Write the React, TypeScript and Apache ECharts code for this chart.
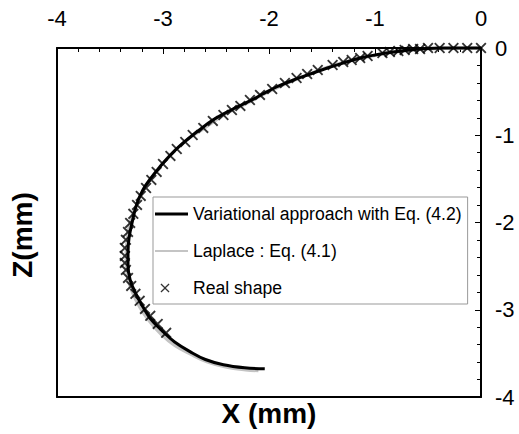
import React, { useEffect, useRef } from "react";
import * as echarts from "echarts";

// Variational approach with Eq. (4.2) — black curve
const variationalX = [0, -0.2, -0.39, -0.51, -0.67, -0.83, -1.0, -1.14, -1.3, -1.45, -1.61, -1.77, -1.93, -2.06, -2.18, -2.34, -2.53, -2.67, -2.81, -2.93, -3.03, -3.12, -3.19, -3.25, -3.29, -3.32, -3.33, -3.33, -3.31, -3.26, -3.19, -3.12, -3.01, -2.89, -2.745, -2.6, -2.43, -2.23, -2.04];
const variationalZ = [0, 0, 0, -0.006, -0.023, -0.046, -0.08, -0.115, -0.172, -0.229, -0.298, -0.367, -0.447, -0.527, -0.607, -0.699, -0.825, -0.951, -1.088, -1.226, -1.363, -1.501, -1.627, -1.798, -1.993, -2.176, -2.337, -2.486, -2.658, -2.807, -2.967, -3.1, -3.24, -3.37, -3.48, -3.57, -3.63, -3.665, -3.677];

// Laplace : Eq. (4.1) — gray curve
const laplaceX = [0, -0.2, -0.4, -0.6, -0.8, -1.0, -1.2, -1.4, -1.6, -1.8, -2.0, -2.2, -2.4, -2.6, -2.8, -2.95, -3.07, -3.17, -3.25, -3.31, -3.34, -3.35, -3.34, -3.29, -3.22, -3.13, -3.02, -2.89, -2.74, -2.58, -2.4, -2.22, -2.1];
const laplaceZ = [0, -0.003, -0.008, -0.02, -0.045, -0.085, -0.135, -0.2, -0.29, -0.39, -0.5, -0.63, -0.75, -0.91, -1.08, -1.25, -1.42, -1.6, -1.8, -2.0, -2.2, -2.4, -2.6, -2.8, -2.97, -3.13, -3.28, -3.41, -3.51, -3.6, -3.66, -3.69, -3.7];

// Real shape — crosses
const realX = [0, -0.13, -0.26, -0.39, -0.5, -0.575, -0.64, -0.72, -0.78, -0.86, -0.93, -1.07, -1.14, -1.22, -1.3, -1.4, -1.54, -1.64, -1.74, -1.85, -1.97, -2.085, -2.18, -2.27, -2.35, -2.43, -2.53, -2.62, -2.72, -2.79, -2.87, -2.93, -3.0, -3.06, -3.11, -3.16, -3.21, -3.245, -3.28, -3.31, -3.33, -3.35, -3.36, -3.36, -3.36, -3.35, -3.33, -3.3, -3.26, -3.22, -3.17, -3.12, -3.05, -2.97];
const realZ = [0, 0, 0, 0, 0, -0.011, -0.011, -0.023, -0.034, -0.046, -0.057, -0.092, -0.115, -0.137, -0.16, -0.195, -0.252, -0.298, -0.344, -0.401, -0.47, -0.538, -0.596, -0.664, -0.71, -0.768, -0.836, -0.916, -0.997, -1.077, -1.157, -1.237, -1.329, -1.42, -1.512, -1.604, -1.695, -1.798, -1.901, -2.005, -2.108, -2.199, -2.291, -2.383, -2.463, -2.543, -2.635, -2.727, -2.818, -2.898, -2.99, -3.07, -3.162, -3.265];

const seriesNames = ["Variational approach with Eq. (4.2)", "Laplace : Eq. (4.1)", "Real shape"];
const xAxisRange = [-4, 0];
const zAxisRange = [-4, 0];
const xTitle = "X (mm)";
const zTitle = "Z(mm)";

const FONT = "'Liberation Sans', Arial, Helvetica, sans-serif";

const crossSymbol = "path://M0,1.2L1.2,0L5,3.8L8.8,0L10,1.2L6.2,5L10,8.8L8.8,10L5,6.2L1.2,10L0,8.8L3.8,5Z";
const crossLegendIcon =
  "path://M0,0L0.01,0L0.01,0.01Z M32.99,13.99L33,13.99L33,14Z M5.5,3.4L6.4,2.5L10,6.1L13.6,2.5L14.5,3.4L10.9,7L14.5,10.6L13.6,11.5L10,7.9L6.4,11.5L5.5,10.6L9.1,7Z";
const thickLineIcon = "path://M0,0L33,0L33,3L0,3Z";
const thinLineIcon = "path://M0,0L33,0L33,2L0,2Z";

const zip = (xs: number[], zs: number[]) => xs.map((x, i) => [x, zs[i]]);

export default function App() {
  const ref = useRef<HTMLDivElement>(null);
  useEffect(() => {
    if (!ref.current) return;
    const chart = echarts.init(ref.current, undefined, { renderer: "svg" });
    const axisLine = { show: true, onZero: false, lineStyle: { color: "#000", width: 2 } };
    chart.setOption({
      animation: false,
      backgroundColor: "#fff",
      grid: { left: 57, right: 38, top: 48, bottom: 37, containLabel: false },
      xAxis: [
        {
          type: "value",
          position: "top",
          min: xAxisRange[0],
          max: xAxisRange[1],
          interval: 1,
          axisLine,
          axisTick: { show: true, inside: true, length: 6, lineStyle: { color: "#000", width: 1 } },
          minorTick: { show: true, splitNumber: 5, length: 4, lineStyle: { color: "#000", width: 1 } },
          axisLabel: { margin: 19, fontSize: 22, color: "#000", fontFamily: FONT },
          splitLine: { show: false },
        },
        {
          type: "value",
          position: "bottom",
          min: xAxisRange[0],
          max: xAxisRange[1],
          interval: 1,
          axisLine,
          axisTick: { show: false },
          axisLabel: { show: false },
          splitLine: { show: false },
          name: xTitle,
          nameLocation: "middle",
          nameGap: 2,
          nameTextStyle: { fontSize: 28, fontWeight: "bold", color: "#000", fontFamily: FONT },
        },
      ],
      yAxis: [
        {
          type: "value",
          position: "right",
          min: zAxisRange[0],
          max: zAxisRange[1],
          interval: 1,
          axisLine,
          axisTick: { show: true, inside: true, length: 6, lineStyle: { color: "#000", width: 1 } },
          minorTick: { show: true, splitNumber: 5, length: 4, lineStyle: { color: "#000", width: 1 } },
          axisLabel: { margin: 14, fontSize: 22, color: "#000", fontFamily: FONT },
          splitLine: { show: false },
        },
        {
          type: "value",
          position: "left",
          min: zAxisRange[0],
          max: zAxisRange[1],
          interval: 1,
          axisLine,
          axisTick: { show: false },
          axisLabel: { show: false },
          splitLine: { show: false },
        },
      ],
      legend: {
        orient: "vertical",
        left: 153,
        top: 197,
        backgroundColor: "#fff",
        borderColor: "#999",
        borderWidth: 1,
        borderRadius: 0,
        padding: [8, 6, 7, 2],
        itemWidth: 33,
        itemHeight: 14,
        itemGap: 19,
        textStyle: { fontSize: 17.6, color: "#000", fontFamily: FONT, lineHeight: 18 },
        data: [
          { name: seriesNames[0], icon: thickLineIcon },
          { name: seriesNames[1], icon: thinLineIcon },
          { name: seriesNames[2], icon: crossLegendIcon },
        ],
      },
      graphic: [
        {
          type: "text",
          x: 22,
          y: 235,
          rotation: Math.PI / 2,
          style: {
            text: zTitle,
            fill: "#000",
            font: `bold 28px ${FONT}`,
            align: "center",
            verticalAlign: "middle",
          },
        },
      ],
      series: [
        {
          name: seriesNames[1],
          type: "line",
          xAxisIndex: 0,
          yAxisIndex: 0,
          data: zip(laplaceX, laplaceZ),
          showSymbol: false,
          symbol: "none",
          smooth: 0.4,
          clip: false,
          z: 2,
          itemStyle: { color: "#c4c4c4" },
          lineStyle: { color: "#c4c4c4", width: 3 },
        },
        {
          name: seriesNames[0],
          type: "line",
          xAxisIndex: 0,
          yAxisIndex: 0,
          data: zip(variationalX, variationalZ),
          showSymbol: false,
          symbol: "none",
          smooth: 0.4,
          clip: false,
          z: 3,
          itemStyle: { color: "#000" },
          lineStyle: { color: "#000", width: 3 },
        },
        {
          name: seriesNames[2],
          type: "scatter",
          xAxisIndex: 0,
          yAxisIndex: 0,
          data: zip(realX, realZ),
          symbol: crossSymbol,
          symbolSize: 11,
          clip: false,
          z: 4,
          itemStyle: { color: "#000" },
        },
      ],
    });
    return () => chart.dispose();
  }, []);
  return (
    <div
      ref={ref}
      style={{ position: "absolute", left: 0, top: 0, width: 519, height: 434 }}
    />
  );
}
